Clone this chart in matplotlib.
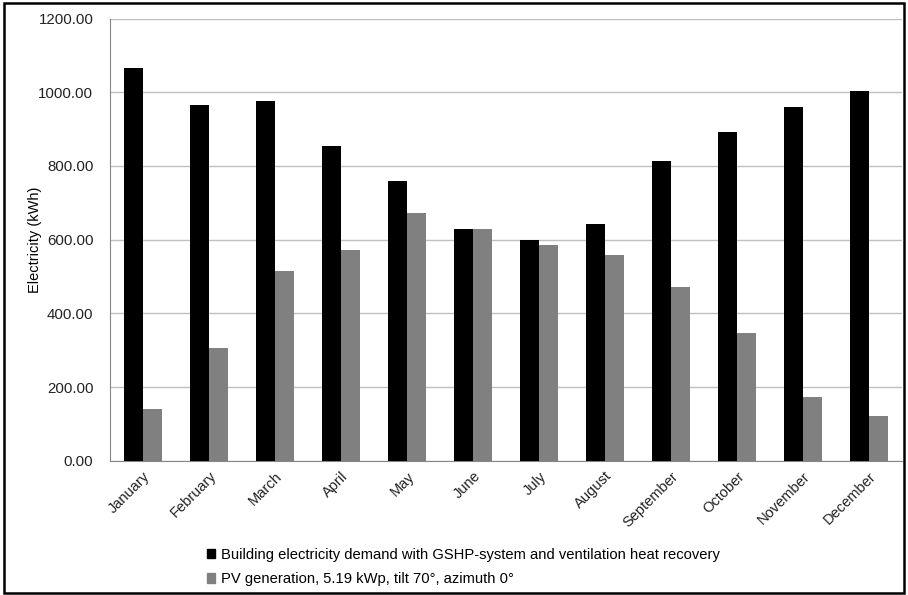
import numpy as np
import matplotlib.pyplot as plt
from matplotlib.patches import Rectangle, Patch

plt.rcParams['font.family'] = ['Liberation Sans', 'DejaVu Sans']

# ============ Data ============
months = ['January', 'February', 'March', 'April', 'May', 'June',
          'July', 'August', 'September', 'October', 'November', 'December']
demand = [1067, 964, 976, 855, 758, 630, 600, 643, 813, 891, 960, 1002]
pv_gen = [140, 307, 515, 571, 672, 629, 586, 558, 472, 346, 173, 120]
yticks = [0, 200, 400, 600, 800, 1000, 1200]

demand_label = 'Building electricity demand with GSHP-system and ventilation heat recovery'
pv_label = 'PV generation, 5.19 kWp, tilt 70°, azimuth 0°'

# ============ Plot ============
fig = plt.figure(figsize=(9.08, 5.95), dpi=100)
ax = fig.add_axes([0.1211, 0.2257, 0.8723, 0.7432])

x = np.arange(len(months))
w = 0.29
ax.bar(x - w / 2, demand, w, color='black', label=demand_label, zorder=3)
ax.bar(x + w / 2, pv_gen, w, color='#808080', label=pv_label, zorder=3)

ax.set_xlim(-0.5, len(months) - 0.5)
ax.set_ylim(0, 1200)
ax.set_yticks(yticks)
ax.set_yticklabels([f'{v:.2f}' for v in yticks], fontsize=10.8)
ax.set_xticks(x)
ax.set_xticklabels(months, rotation=45, ha='right', rotation_mode='anchor', fontsize=10.5)
ax.tick_params(axis='both', length=0, colors='#222222')
ax.tick_params(axis='y', pad=12)
ax.tick_params(axis='x', pad=6)
ax.set_ylabel('Electricity (kWh)', fontsize=10.5)
ax.yaxis.set_label_coords(-0.086, 0.5)

ax.yaxis.grid(True, color='#c0c0c0', linewidth=1, zorder=0)
for s in ['top', 'right']:
    ax.spines[s].set_visible(False)
ax.spines['left'].set_color('#868686')
ax.spines['bottom'].set_color('#868686')

handles = [Patch(color='black', label=demand_label),
           Patch(color='#808080', label=pv_label)]
fig.legend(handles=handles, loc='upper left', bbox_to_anchor=(0.221, 0.089),
           frameon=False, fontsize=10.6, handlelength=0.6, handleheight=0.6,
           handletextpad=0.35, labelspacing=0.7, borderaxespad=0)

# outer frame
fig.patches.append(Rectangle((0.004, 0.004), 0.992, 0.991, transform=fig.transFigure,
                             fill=False, edgecolor='black', linewidth=1.8))

fig.savefig('out.png', dpi=100)
